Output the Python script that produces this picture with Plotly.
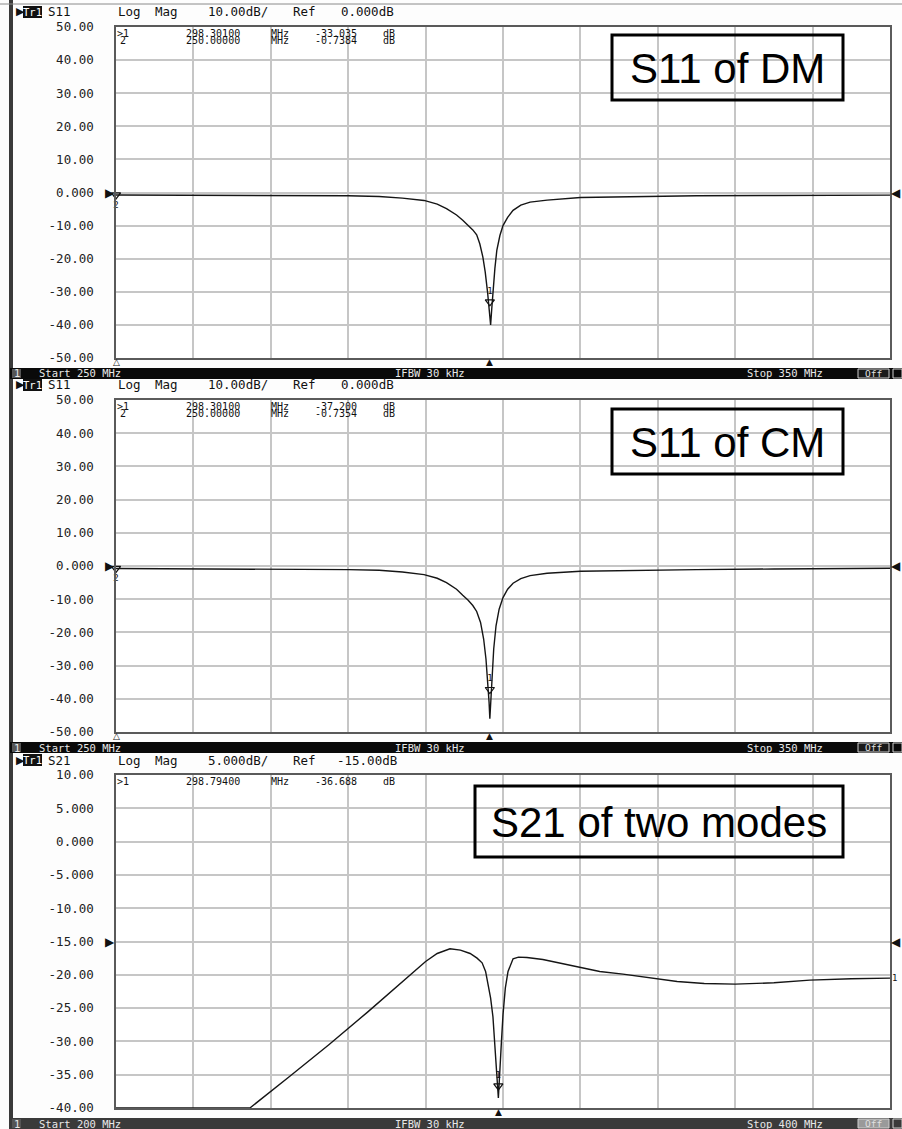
import plotly.graph_objects as go

W, H = 902, 1129

# ---------------- data ----------------
dm_freq = [250, 260, 270, 275, 280, 284, 287, 289.8, 291.5, 292.7, 294, 294.8, 295.5, 296.1, 296.6,
           297.0, 297.4, 297.7, 298.0, 298.2, 298.4, 298.55, 298.7, 298.95, 299.2, 299.6, 300,
           300.6, 301.3, 302.3, 303.5, 305.7, 310, 316.4, 325, 335, 345, 350]
dm_db = [-0.74, -0.78, -0.9, -0.95, -1.0, -1.2, -1.7, -2.4, -3.5, -4.9, -6.8, -8.4, -9.9, -11.3, -12.8,
         -15.5, -19.5, -24, -30, -35, -40, -35, -30, -23, -17.5, -13, -10,
         -7.5, -5.4, -3.8, -2.9, -2.3, -1.5, -1.2, -1.0, -0.9, -0.8, -0.8]

cm_freq = [250, 260, 270, 280, 284, 287, 289.8, 291.5, 292.7, 294, 294.8, 295.5, 296.1, 296.6, 297.1,
           297.5, 297.8, 298.0, 298.2, 298.3, 298.45, 298.6, 298.8, 299.1, 299.5, 300, 300.6,
           301.3, 302.3, 303.5, 305.7, 310, 316.4, 325, 335, 345, 350]
cm_db = [-0.74, -0.8, -0.9, -1.1, -1.3, -1.8, -2.6, -3.7, -5.0, -7.0, -8.8, -10.3, -11.9, -13.7, -17,
         -22, -28, -34, -41, -46, -40, -33, -25, -18, -13, -9.5, -7,
         -5.2, -3.8, -2.9, -2.2, -1.6, -1.3, -1.1, -0.9, -0.8, -0.7]

s21_freq = [200, 234.6, 245, 255, 265, 275, 280, 283, 286.3, 289, 291.5, 293.3,
            294.6, 295.5, 296.1, 296.8, 297.4, 297.9, 298.4, 298.8, 299.2, 299.6, 300.0, 300.6,
            301.3, 302.6, 304, 306.2, 310.3, 315, 319.9, 325, 331, 338, 345, 352, 360, 370,
            379.3, 390, 400]
s21_db = [-40, -40, -35.2, -30.5, -25.6, -20.6, -18.0, -16.8, -16.1, -16.3, -16.8, -17.5,
          -18.2, -19.5, -21.2, -23.5, -26.3, -30, -35, -38.5, -35, -30, -26, -22,
          -19.5, -17.6, -17.35, -17.4, -17.7, -18.3, -18.9, -19.5, -19.9, -20.4, -21.0, -21.3, -21.4, -21.2,
          -20.8, -20.6, -20.5]

s11_tick_vals = [50, 40, 30, 20, 10, 0, -10, -20, -30, -40, -50]
s11_tick_text = ["50.00", "40.00", "30.00", "20.00", "10.00", "0.000",
                 "-10.00", "-20.00", "-30.00", "-40.00", "-50.00"]
s21_tick_vals = [10, 5, 0, -5, -10, -15, -20, -25, -30, -35, -40]
s21_tick_text = ["10.00", "5.000", "0.000", "-5.000", "-10.00", "-15.00",
                 "-20.00", "-25.00", "-30.00", "-35.00", "-40.00"]

dm_marker1 = (298.301, -33.035)
dm_marker2 = (250.0, -0.7384)
cm_marker1 = (298.301, -37.200)
cm_marker2 = (250.0, -0.7354)
s21_marker1 = (298.794, -36.688)

panels = [
    dict(freq=dm_freq, db=dm_db, xr=(250, 350), xdt=10, yr=(-50, 50), ref=0,
         tv=s11_tick_vals, tt=s11_tick_text, m1=dm_marker1, m2=dm_marker2,
         header=["S11", "Log", "Mag", "10.00dB/", "Ref", "0.000dB"],
         readout=[[">1", "298.30100", "MHz", "-33.035", "dB"],
                  ["2", "250.00000", "MHz", "-0.7384", "dB"]],
         label="S11 of DM", start="Start 250 MHz", stop="Stop 350 MHz",
         top=27, bot=358, box=(612, 35, 843, 100), dark="#0a0a0a", endlabel=False),
    dict(freq=cm_freq, db=cm_db, xr=(250, 350), xdt=10, yr=(-50, 50), ref=0,
         tv=s11_tick_vals, tt=s11_tick_text, m1=cm_marker1, m2=cm_marker2,
         header=["S11", "Log", "Mag", "10.00dB/", "Ref", "0.000dB"],
         readout=[[">1", "298.30100", "MHz", "-37.200", "dB"],
                  ["2", "250.00000", "MHz", "-0.7354", "dB"]],
         label="S11 of CM", start="Start 250 MHz", stop="Stop 350 MHz",
         top=400, bot=732, box=(612, 409, 843, 474), dark="#0a0a0a", endlabel=False),
    dict(freq=s21_freq, db=s21_db, xr=(200, 400), xdt=20, yr=(-40, 10), ref=-15,
         tv=s21_tick_vals, tt=s21_tick_text, m1=s21_marker1, m2=None,
         header=["S21", "Log", "Mag", "5.000dB/", "Ref", "-15.00dB"],
         readout=[[">1", "298.79400", "MHz", "-36.688", "dB"]],
         label="S21 of two modes", start="Start 200 MHz", stop="Stop 400 MHz",
         top=775, bot=1108, box=(475, 786, 843, 857), dark="#3a3a3a", endlabel=True),
]

# token centre positions (pixels)
header_cx = [59, 129, 166, 238, 304, 367]
readout_cx = [123, 213, 280, 336, 389]

# ---------------- figure ----------------
def px(x):
    return x / W


def py(y):
    return 1 - y / H


MONO = "DejaVu Sans Mono"
SANS = "DejaVu Sans"
fig = go.Figure()
shapes = []
annotations = []

for i, p in enumerate(panels):
    n = "" if i == 0 else str(i + 1)
    xa, ya = "x" + n, "y" + n

    fig.add_trace(go.Scatter(x=p["freq"], y=p["db"], mode="lines", xaxis=xa, yaxis=ya,
                             line=dict(color="#151515", width=1.4), showlegend=False,
                             hoverinfo="skip"))
    # marker 1 on trace
    fig.add_trace(go.Scatter(x=[p["m1"][0]], y=[p["m1"][1]], mode="markers+text", xaxis=xa, yaxis=ya,
                             marker=dict(symbol="triangle-down-open", size=8, color="#111",
                                         line=dict(width=1.2, color="#111")),
                             text=["1"], textposition="top center",
                             textfont=dict(family=MONO, size=9, color="#111"),
                             showlegend=False, cliponaxis=False, hoverinfo="skip"))
    if p["m2"]:
        fig.add_trace(go.Scatter(x=[p["m2"][0]], y=[p["m2"][1]], mode="markers+text", xaxis=xa, yaxis=ya,
                                 marker=dict(symbol="triangle-down-open", size=8, color="#111",
                                             line=dict(width=1.2, color="#111")),
                                 text=["2"], textposition="bottom center",
                                 textfont=dict(family=MONO, size=9, color="#111"),
                                 showlegend=False, cliponaxis=False, hoverinfo="skip"))
    # stimulus indicators under the axis
    annotations.append(dict(x=p["m1"][0], y=p["yr"][0], xref=xa, yref=ya, text="▲",
                            showarrow=False, yanchor="top", yshift=3,
                            font=dict(family=SANS, size=9, color="#111")))
    if p["m2"]:
        annotations.append(dict(x=p["m2"][0], y=p["yr"][0], xref=xa, yref=ya, text="△",
                                showarrow=False, yanchor="top", yshift=3,
                                font=dict(family=SANS, size=9, color="#111")))
    # reference level arrows
    annotations.append(dict(x=p["xr"][0], y=p["ref"], xref=xa, yref=ya, text="▶",
                            showarrow=False, xanchor="right", xshift=1,
                            font=dict(family=SANS, size=12, color="#111")))
    annotations.append(dict(x=p["xr"][1], y=p["ref"], xref=xa, yref=ya, text="◀",
                            showarrow=False, xanchor="left", xshift=-1,
                            font=dict(family=SANS, size=12, color="#111")))
    if p["endlabel"]:
        annotations.append(dict(x=p["freq"][-1], y=p["db"][-1], xref=xa, yref=ya, text="1",
                                showarrow=False, xanchor="left", xshift=0,
                                font=dict(family=MONO, size=9, color="#111")))

    dom_y = [py(p["bot"]), py(p["top"])]
    fig.update_layout(**{
        ("xaxis" + n): dict(domain=[px(116), px(890)], range=list(p["xr"]), dtick=p["xdt"],
                            tick0=p["xr"][0], showticklabels=False, ticks="", showgrid=True,
                            gridcolor="#c6c6c6", gridwidth=1.5, zeroline=False, showline=True,
                            linecolor="#5a5a5a", linewidth=1.5, mirror=True, anchor=ya,
                            fixedrange=True, automargin=False),
        ("yaxis" + n): dict(domain=dom_y, range=list(p["yr"]), tickvals=p["tv"], ticktext=p["tt"],
                            showgrid=True, gridcolor="#c6c6c6", gridwidth=1.5, zeroline=False,
                            showline=True, linecolor="#5a5a5a", linewidth=1.5, mirror=True,
                            ticks="", ticklabelstandoff=18, anchor=xa, fixedrange=True,
                            automargin=False,
                            tickfont=dict(family=MONO, size=12.5, color="#222")),
    })

    # header line
    hy = p["top"] - 15
    annotations.append(dict(x=px(14), y=py(hy), xref="paper", yref="paper", text="▶",
                            showarrow=False, xanchor="left", yanchor="middle",
                            font=dict(family=SANS, size=11, color="#111")))
    shapes.append(dict(type="rect", xref="paper", yref="paper", x0=px(23), x1=px(42),
                       y0=py(hy + 6), y1=py(hy - 6), fillcolor="#111", line=dict(width=0)))
    annotations.append(dict(x=px(32.5), y=py(hy), xref="paper", yref="paper", text="Tr1",
                            showarrow=False, xanchor="center", yanchor="middle",
                            font=dict(family=MONO, size=10.5, color="#fff")))
    for tok, x in zip(p["header"], header_cx):
        annotations.append(dict(x=px(x), y=py(hy), xref="paper", yref="paper", text=tok,
                                showarrow=False, xanchor="center", yanchor="middle",
                                font=dict(family=MONO, size=12.5, color="#111")))
    # marker readout
    for li, line in enumerate(p["readout"]):
        ly = p["top"] + 6 + li * 8
        for tok, x in zip(line, readout_cx):
            annotations.append(dict(x=px(x), y=py(ly), xref="paper", yref="paper", text=tok,
                                    showarrow=False, xanchor="center", yanchor="middle",
                                    font=dict(family=MONO, size=10, color="#111")))
    # label box
    bx0, by0, bx1, by1 = p["box"]
    shapes.append(dict(type="rect", xref="paper", yref="paper", x0=px(bx0), x1=px(bx1),
                       y0=py(by1), y1=py(by0), line=dict(color="#000", width=3)))
    annotations.append(dict(x=px((bx0 + bx1) / 2), y=py((by0 + by1) / 2 + 1), xref="paper", yref="paper",
                            text=p["label"], showarrow=False, xanchor="center", yanchor="middle",
                            font=dict(family="Liberation Sans", size=42, color="#000")))
    # status bar
    sb0, sb1 = p["bot"] + 10, min(p["bot"] + 21, H)
    shapes.append(dict(type="rect", xref="paper", yref="paper", x0=px(10), x1=px(902),
                       y0=py(sb1), y1=py(sb0), fillcolor=p["dark"], line=dict(width=0)))
    sy = (sb0 + sb1) / 2
    shapes.append(dict(type="rect", xref="paper", yref="paper", x0=px(12), x1=px(21),
                       y0=py(sb1 - 1), y1=py(sb0 + 1), fillcolor="#555", line=dict(width=0)))
    for tok, x, anc in [("1", 16.5, "center"), (p["start"], 37, "left"),
                        ("IFBW 30 kHz", 393, "left"), (p["stop"], 745, "left")]:
        annotations.append(dict(x=px(x), y=py(sy), xref="paper", yref="paper", text=tok,
                                showarrow=False, xanchor=anc, yanchor="middle",
                                font=dict(family=MONO, size=10.5, color="#e8e8e8")))
    shapes.append(dict(type="rect", xref="paper", yref="paper", x0=px(858), x1=px(889),
                       y0=py(sb1 - 1), y1=py(sb0 + 1), fillcolor="#9a9a9a" if p["endlabel"] else "#1a1a1a",
                       line=dict(color="#cfcfcf", width=1)))
    annotations.append(dict(x=px(873.5), y=py(sy), xref="paper", yref="paper", text="Off",
                            showarrow=False, xanchor="center", yanchor="middle",
                            font=dict(family=MONO, size=9.5, color="#e0e0e0")))
    shapes.append(dict(type="rect", xref="paper", yref="paper", x0=px(893), x1=px(902),
                       y0=py(sb1 - 1), y1=py(sb0 + 1), fillcolor=p["dark"],
                       line=dict(color="#cfcfcf", width=1)))

# left frame strip and top line
shapes.append(dict(type="rect", xref="paper", yref="paper", x0=px(9), x1=px(13),
                   y0=0, y1=1, fillcolor="#3a3a3a", line=dict(width=0), layer="below"))
shapes.append(dict(type="line", xref="paper", yref="paper", x0=0, x1=1,
                   y0=py(4), y1=py(4), line=dict(color="#8a8a8a", width=1)))

fig.update_layout(width=W, height=H, margin=dict(l=0, r=0, t=0, b=0, autoexpand=False),
                  paper_bgcolor="#fdfdfd", plot_bgcolor="#ffffff",
                  shapes=shapes, annotations=annotations, showlegend=False)

fig.write_html("out.html", config={"displayModeBar": False},
               post_script="document.body.style.margin='0';document.body.style.overflow='hidden';")
